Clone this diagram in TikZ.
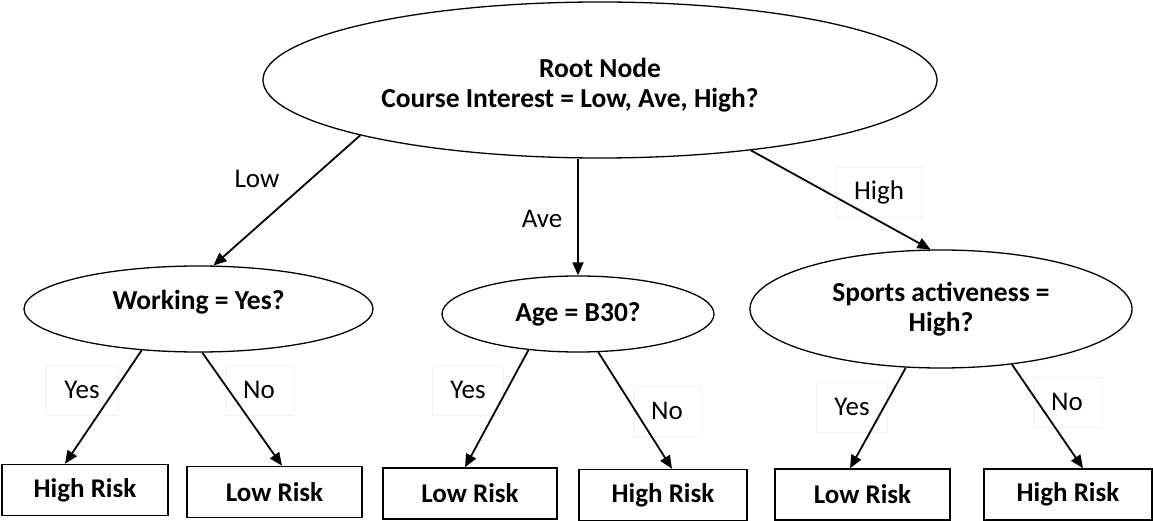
\documentclass[tikz,border=0pt]{standalone}
\usepackage{fontspec}
\setmainfont{Carlito}
\usetikzlibrary{shapes.geometric,arrows.meta}

\tikzset{
  question/.style={ellipse, draw=black, line width=1.3pt, inner sep=0pt,
    font=\fontsize{27.5}{30}\selectfont\bfseries, align=center},
  leaf/.style={rectangle, draw=black, line width=1.5pt, inner sep=0pt,
    minimum width=170pt, minimum height=51pt,
    font=\fontsize{27}{30}\selectfont\bfseries},
  branch/.style={font=\fontsize{27}{30}\selectfont, inner sep=2pt},
  framedbranch/.style={branch, draw=black!5, line width=0.6pt,
    inner xsep=18pt, minimum height=50pt},
  edge/.style={line width=1.8pt, -{Triangle[length=13pt,width=11pt]}}
}

\begin{document}
\begin{tikzpicture}[x=1pt, y=-1pt]
\useasboundingbox (0,0) rectangle (1153,521);

% branch labels (drawn first so their faint frames sit under the arrows)
\node[branch] (lLow)  at (257,179) {Low};
\node[branch] (lAve)  at (542,219) {Ave};
\node[framedbranch] (lHigh) at (879,192) {High};
\node[framedbranch] (lY1) at (82,390)   {Yes};
\node[framedbranch] (lN1) at (259,390)  {No};
\node[framedbranch] (lY2) at (468,390)  {Yes};
\node[framedbranch] (lN2) at (667,411)  {No};
\node[framedbranch] (lY3) at (852,407)  {Yes};
\node[framedbranch] (lN3) at (1067,402) {No};

% decision nodes (struts nudge the text off the ellipse centre)
\node[question, minimum width=674pt, minimum height=156pt] (root) at (600,80)
  {\rule{0pt}{30pt}Root Node\\Course Interest = Low, Ave, High?\hspace*{60pt}};
\node[question, minimum width=349pt, minimum height=86pt] (work) at (198.5,309)
  {Working = Yes?\rule[-18pt]{0pt}{18pt}};
\node[question, minimum width=272pt, minimum height=76pt] (age) at (578,314)
  {Age = B30?};
\node[question, minimum width=382pt, minimum height=118pt] (sport) at (941,309)
  {Sports activeness =\\High?};

% outcomes
\node[leaf, minimum width=166pt] (w1) at (85,490)    {High Risk};
\node[leaf, minimum width=175pt] (w2) at (274.5,492) {Low Risk};
\node[leaf, minimum width=174pt] (a1) at (470,493.5) {Low Risk};
\node[leaf, minimum width=168pt] (a2) at (663,495)   {High Risk};
\node[leaf, minimum width=175pt] (s1) at (862.5,494.5) {Low Risk};
\node[leaf, minimum width=168pt] (s2) at (1068,494.5)  {High Risk};

% first split
\draw[edge] (root.193.2) -- (work.71.4);
\draw[edge] (root.south -| age.north) -- (age.north);
\draw[edge] (root.-25.8) -- (sport.100.6);

% second splits
\draw[edge] (work.216.3) -- ([xshift=-20pt]w1.north);
\draw[edge] (work.275)   -- ([xshift=7.5pt]w2.north);
\draw[edge] (age.216.6)  -- ([xshift=-5pt]a1.north);
\draw[edge] (age.298)    -- ([xshift=9pt]a2.north);
\draw[edge] (sport.239.7) -- ([xshift=-12.5pt]s1.north);
\draw[edge] (sport.322.3) -- ([xshift=15pt]s2.north);
\end{tikzpicture}
\end{document}
